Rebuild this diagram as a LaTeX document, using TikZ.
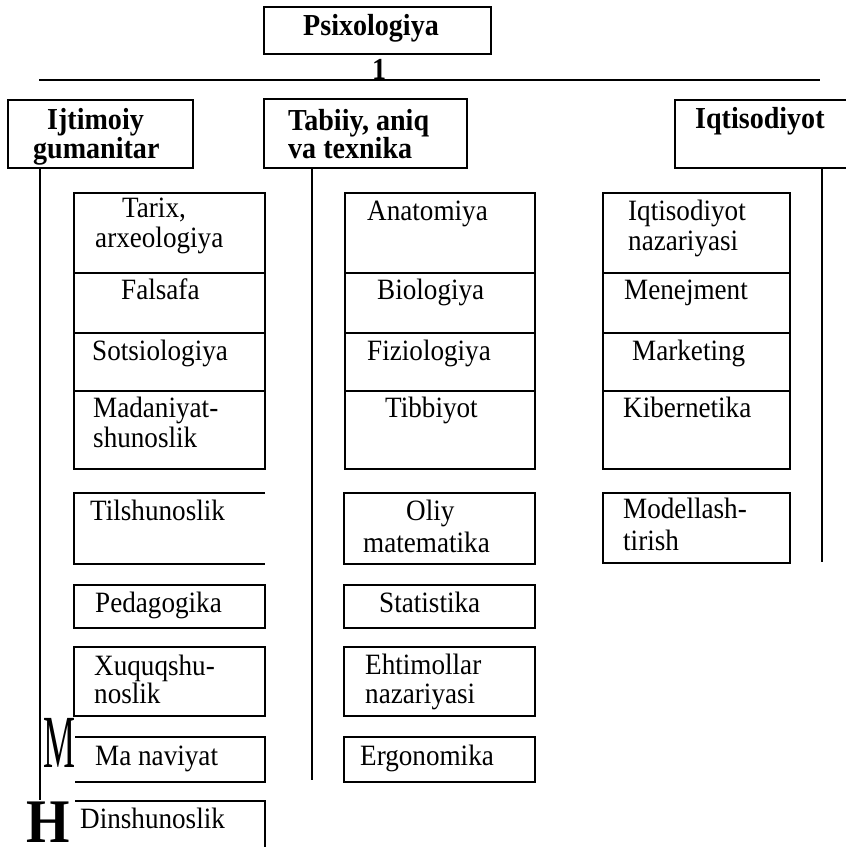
\documentclass[tikz,border=0pt]{standalone}
\usepackage{fontspec}
\usepackage{graphicx}
\setmainfont{Liberation Serif}[FakeStretch=0.92]
\newfontfamily\plainserif{Liberation Serif}
\begin{document}
\begin{tikzpicture}[x=1pt,y=-1pt,
  bx/.style={draw,line width=1.5pt,inner sep=0pt,outer sep=0pt,anchor=north west},
  rg/.style={inner sep=0pt,anchor=base west,font=\fontsize{29.5}{31}\selectfont},
  bd/.style={inner sep=0pt,anchor=base west,font=\fontsize{30.5}{31}\selectfont\bfseries},
  ln/.style={line width=1.5pt},
  hln/.style={line width=2.2pt}]
\useasboundingbox (0,0) rectangle (846,847);
% top
\node[bx,minimum width=227pt,minimum height=47pt] (psi) at (264,7) {};
\node[bd] (tpsi) at (303,35) {Psixologiya};
\node[bd] (one) at (372,79) {1};
\coordinate (hl) at (39,80);
\coordinate (hr) at (820,80);
\draw[hln] (hl) -- (hr);
% headers
\node[bx,minimum width=185pt,minimum height=68pt] (ij) at (8,100) {};
\node[bd] (tij1) at (47,129) {Ijtimoiy};
\node[bd] (tij2) at (33,158) {gumanitar};
\node[bx,minimum width=203pt,minimum height=69pt] (tab) at (264,99) {};
\node[bd] (ttab1) at (288,130) {Tabiiy, aniq};
\node[bd] (ttab2) at (288,158) {va texnika};
\coordinate (iqa) at (848,100);
\coordinate (iqb) at (675,100);
\coordinate (iqc) at (675,168);
\coordinate (iqd) at (848,168);
\draw[ln] (iqa) -- (iqb) -- (iqc) -- (iqd);
\node[bd] (tiq) at (695,128) {Iqtisodiyot};
% trunks
\coordinate (lt) at (40,168); \coordinate (lb) at (40,800);
\coordinate (mt) at (312,168); \coordinate (mb) at (312,780);
\coordinate (rt) at (822,168); \coordinate (rb) at (822,562);
\draw[ln] (lt) -- (lb);
\draw[ln] (mt) -- (mb);
\draw[ln] (rt) -- (rb);
% left column
\node[bx,minimum width=191pt,minimum height=80pt] (tarix) at (74,193) {};
\node[rg] (ttarix1) at (122,217) {Tarix,};
\node[rg] (ttarix2) at (95,247) {arxeologiya};
\node[bx,minimum width=191pt,minimum height=60pt] (fals) at (74,273) {};
\node[rg] (tfals) at (121,299) {Falsafa};
\node[bx,minimum width=191pt,minimum height=58pt] (sots) at (74,333) {};
\node[rg] (tsots) at (92,360) {Sotsiologiya};
\node[bx,minimum width=191pt,minimum height=78pt] (madan) at (74,391) {};
\node[rg] (tmadan1) at (93,417) {Madaniyat-};
\node[rg] (tmadan2) at (93,447) {shunoslik};
\coordinate (tila) at (265,493); \coordinate (tilb) at (74,493);
\coordinate (tilc) at (74,564); \coordinate (tild) at (265,564);
\draw[ln] (tila) -- (tilb) -- (tilc) -- (tild);
\node[rg] (ttil) at (90,520) {Tilshunoslik};
\node[bx,minimum width=191pt,minimum height=43pt] (ped) at (74,585) {};
\node[rg] (tped) at (95,612) {Pedagogika};
\node[bx,minimum width=191pt,minimum height=69pt] (xuq) at (74,647) {};
\node[rg] (txuq1) at (94,675) {Xuquqshu-};
\node[rg] (txuq2) at (94,703) {noslik};
\coordinate (maa) at (75,737); \coordinate (mab) at (265,737);
\coordinate (mac) at (265,782); \coordinate (mad) at (75,782);
\draw[ln] (maa) -- (mab) -- (mac) -- (mad);
\node[rg] (tma) at (95,765) {Ma naviyat};
\coordinate (dia) at (75,801); \coordinate (dib) at (265,801);
\coordinate (dic) at (265,850);
\draw[ln] (dia) -- (dib) -- (dic);
\node[rg] (tdin) at (80,828) {Dinshunoslik};
\node[inner sep=0pt,anchor=base west] (bigm) at (43,767) {\scalebox{0.48}[1]{\plainserif\fontsize{75}{75}\selectfont M}};
\node[inner sep=0pt,anchor=base west] (bigh) at (26,842) {\scalebox{0.9}[1]{\plainserif\fontsize{62}{62}\selectfont\bfseries H}};
% middle column
\node[bx,minimum width=190pt,minimum height=80pt] (anat) at (345,193) {};
\node[rg] (tanat) at (367,220) {Anatomiya};
\node[bx,minimum width=190pt,minimum height=60pt] (bio) at (345,273) {};
\node[rg] (tbio) at (377,299) {Biologiya};
\node[bx,minimum width=190pt,minimum height=58pt] (fiz) at (345,333) {};
\node[rg] (tfiz) at (367,360) {Fiziologiya};
\node[bx,minimum width=190pt,minimum height=78pt] (tib) at (345,391) {};
\node[rg] (ttib) at (385,417) {Tibbiyot};
\node[bx,minimum width=191pt,minimum height=71pt] (oliy) at (344,493) {};
\node[rg] (toliy1) at (406,520) {Oliy};
\node[rg] (toliy2) at (363,552) {matematika};
\node[bx,minimum width=191pt,minimum height=43pt] (stat) at (344,585) {};
\node[rg] (tstat) at (379,612) {Statistika};
\node[bx,minimum width=191pt,minimum height=69pt] (eht) at (344,647) {};
\node[rg] (teht1) at (365,674) {Ehtimollar};
\node[rg] (teht2) at (365,703) {nazariyasi};
\node[bx,minimum width=191pt,minimum height=45pt] (erg) at (344,737) {};
\node[rg] (terg) at (360,765) {Ergonomika};
% right column
\node[bx,minimum width=187pt,minimum height=80pt] (iqn) at (603,193) {};
\node[rg] (tiqn1) at (628,220) {Iqtisodiyot};
\node[rg] (tiqn2) at (628,250) {nazariyasi};
\node[bx,minimum width=187pt,minimum height=60pt] (men) at (603,273) {};
\node[rg] (tmen) at (624,299) {Menejment};
\node[bx,minimum width=187pt,minimum height=58pt] (mark) at (603,333) {};
\node[rg] (tmark) at (632,360) {Marketing};
\node[bx,minimum width=187pt,minimum height=78pt] (kib) at (603,391) {};
\node[rg] (tkib) at (623,417) {Kibernetika};
\node[bx,minimum width=187pt,minimum height=70pt] (mod) at (603,493) {};
\node[rg] (tmod1) at (623,518) {Modellash-};
\node[rg] (tmod2) at (623,550) {tirish};
\end{tikzpicture}
\end{document}
